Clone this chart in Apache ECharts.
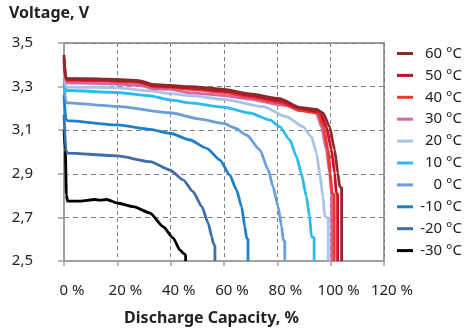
<!DOCTYPE html>
<html>
<head>
<meta charset="utf-8">
<script src="https://cdn.jsdelivr.net/npm/echarts@6/dist/echarts.min.js"></script>
<style>
html,body{margin:0;padding:0;background:#fff;}
#chart{width:464px;height:331px;}
</style>
</head>
<body>
<div id="chart"></div>
<script>
// Series names (legend order)
const seriesNames = ['60 °C','50 °C','40 °C','30 °C','20 °C','10 °C','0 °C','-10 °C','-20 °C','-30 °C'];
const seriesColors = ['#8b2a2a','#c8102e','#ee3a2a','#d466a8','#a9c3e4','#2bbcee','#6a9fd8','#1e80c6','#3d6ea6','#000000'];

// [Discharge capacity %, Voltage V]
const t60 = [[0,3.445],[0.5,3.344],[1.1,3.337],[13.6,3.335],[24.9,3.330],[28.6,3.326],[33.1,3.310],[39.8,3.305],[47.3,3.300],[59.9,3.287],[69.7,3.266],[80.9,3.245],[88.4,3.204],[94.7,3.195],[97.1,3.179],[99.6,3.116],[101.5,3.009],[102.7,2.902],[103.4,2.841],[104.1,2.837],[104.1,2.5]];
const t50 = [[0,3.431],[0.7,3.337],[1.3,3.333],[13.6,3.330],[24.9,3.326],[28.6,3.321],[33.1,3.305],[39.8,3.300],[47.3,3.294],[59.9,3.280],[69.7,3.259],[80.9,3.236],[88.4,3.200],[95.9,3.185],[98.4,3.116],[100.3,3.009],[101.5,2.902],[102.1,2.811],[102.6,2.807],[102.6,2.5]];
const t40 = [[0,3.413],[0.7,3.333],[1.3,3.328],[13.6,3.326],[24.9,3.321],[28.6,3.317],[33.1,3.300],[39.8,3.296],[47.3,3.287],[59.9,3.273],[69.7,3.252],[80.9,3.227],[88.4,3.190],[95.2,3.178],[97.4,3.116],[99.0,3.009],[99.9,2.902],[100.5,2.811],[101.3,2.807],[101.3,2.5]];
const t30 = [[0,3.394],[0.7,3.321],[1.3,3.317],[20.0,3.312],[28.6,3.305],[33.1,3.291],[39.8,3.287],[47.3,3.271],[59.9,3.259],[69.7,3.243],[80.9,3.216],[90.9,3.200],[94.7,3.178],[96.5,3.116],[98.4,3.009],[99.6,2.902],[100.3,2.811],[100.4,2.807],[100.4,2.5]];
const t20 = [[0,3.367],[0.7,3.300],[1.3,3.298],[20.0,3.294],[32.3,3.280],[39.8,3.268],[47.3,3.259],[59.9,3.241],[74.7,3.208],[83.4,3.162],[89.6,3.116],[92.8,3.070],[94.7,2.994],[95.9,2.902],[97.1,2.795],[97.8,2.703],[98.5,2.700],[99.1,2.697],[99.1,2.5]];
const t10 = [[0,3.344],[0.7,3.284],[1.3,3.282],[20.0,3.273],[32.3,3.257],[39.8,3.239],[47.3,3.225],[59.9,3.206],[69.7,3.179],[77.2,3.147],[80.9,3.116],[84.7,3.055],[87.2,2.978],[89.0,2.902],[90.9,2.795],[92.1,2.703],[92.8,2.611],[93.8,2.608],[93.8,2.5]];
const t0 = [[0,3.317],[0.7,3.229],[1.3,3.225],[20.0,3.209],[39.8,3.180],[51.0,3.151],[59.9,3.131],[64.1,3.110],[68.5,3.078],[73.5,3.009],[76.6,2.917],[78.4,2.841],[80.3,2.749],[81.6,2.657],[82.2,2.596],[82.8,2.592],[82.8,2.5]];
const tm10 = [[0,3.261],[0.7,3.151],[1.3,3.144],[20.0,3.124],[32.3,3.104],[39.8,3.086],[47.3,3.055],[53.5,3.017],[58.5,2.963],[62.2,2.894],[64.7,2.826],[66.6,2.749],[67.8,2.657],[68.5,2.604],[69.0,2.601],[69.0,2.5]];
const tm20 = [[0,3.170],[0.7,3.009],[1.3,2.995],[20.0,2.982],[32.3,2.956],[39.8,2.917],[44.7,2.872],[48.4,2.818],[51.7,2.749],[54.1,2.673],[55.4,2.611],[56.0,2.581],[56.6,2.569],[56.6,2.5]];
const tm30 = [[0,3.101],[0.5,3.009],[0.9,2.803],[1.3,2.775],[6.2,2.775],[11.5,2.782],[13.6,2.779],[16.0,2.782],[20.0,2.766],[26.0,2.749],[32.3,2.720],[37.2,2.657],[40.9,2.606],[43.5,2.550],[45.1,2.532],[45.6,2.527],[45.6,2.5]];
const seriesData = [t60,t50,t40,t30,t20,t10,t0,tm10,tm20,tm30];

// Axis ticks
const xTicks = {min:0, max:120, interval:20};
const yTicks = {min:2.5, max:3.5, interval:0.2};

const FONT = 'Noto Sans';
const chart = echarts.init(document.getElementById('chart'), null, {renderer:'canvas'});

const series = seriesNames.map((n,i)=>({
  name:n, type:'line', data:seriesData[i], showSymbol:false, symbol:'none',
  smooth:0.2, smoothMonotone:'x',
  lineStyle:{color:seriesColors[i], width:2.8}, itemStyle:{color:seriesColors[i]},
  z: 10 - i, animation:false
})).reverse();

chart.setOption({
  animation:false,
  textStyle:{fontFamily:FONT},
  title:{text:'Voltage, V', left:9, top:5, padding:0,
    textStyle:{fontFamily:FONT, fontSize:16, fontWeight:'bold', color:'#222'}},
  grid:{left:64, right:80, top:43, bottom:70, show:true, borderColor:'#a0a0a0', borderWidth:2, containLabel:false},
  legend:{
    data:seriesNames, orient:'vertical', left:397, top:46, padding:0,
    itemWidth:16, itemHeight:3, itemGap:6.9, icon:'rect',
    formatter: n => '{a|' + n + '}',
    textStyle:{fontFamily:FONT, fontSize:15, color:'#222',
      rich:{a:{width:44, align:'right', fontSize:15, lineHeight:16, fontFamily:FONT, color:'#222'}}}
  },
  xAxis:{
    type:'value', min:xTicks.min, max:xTicks.max, interval:xTicks.interval,
    name:'Discharge Capacity, %', nameLocation:'middle', nameGap:49,
    nameTextStyle:{fontFamily:FONT, fontSize:16, fontWeight:'bold', color:'#222', padding:[0,25,0,0]},
    axisLine:{show:true, lineStyle:{color:'#a0a0a0', width:2}},
    axisTick:{show:true, length:5, lineStyle:{color:'#a0a0a0', width:1.5}},
    axisLabel:{formatter:'{value} %', fontFamily:FONT, fontSize:15, color:'#222', margin:22, padding:[0,0,0,16]},
    splitLine:{show:true, lineStyle:{color:'#808080', type:[4,3], width:1}}
  },
  yAxis:{
    type:'value', min:yTicks.min, max:yTicks.max, interval:yTicks.interval,
    axisLine:{show:true, lineStyle:{color:'#a0a0a0', width:2}},
    axisTick:{show:true, length:6, lineStyle:{color:'#a0a0a0', width:1.5}},
    axisLabel:{formatter: v => v.toFixed(1).replace('.', ','), fontFamily:FONT, fontSize:15, color:'#222', margin:31},
    splitLine:{show:true, lineStyle:{color:'#808080', type:[5,4], width:1}}
  },
  series: series
});
</script>
</body>
</html>
